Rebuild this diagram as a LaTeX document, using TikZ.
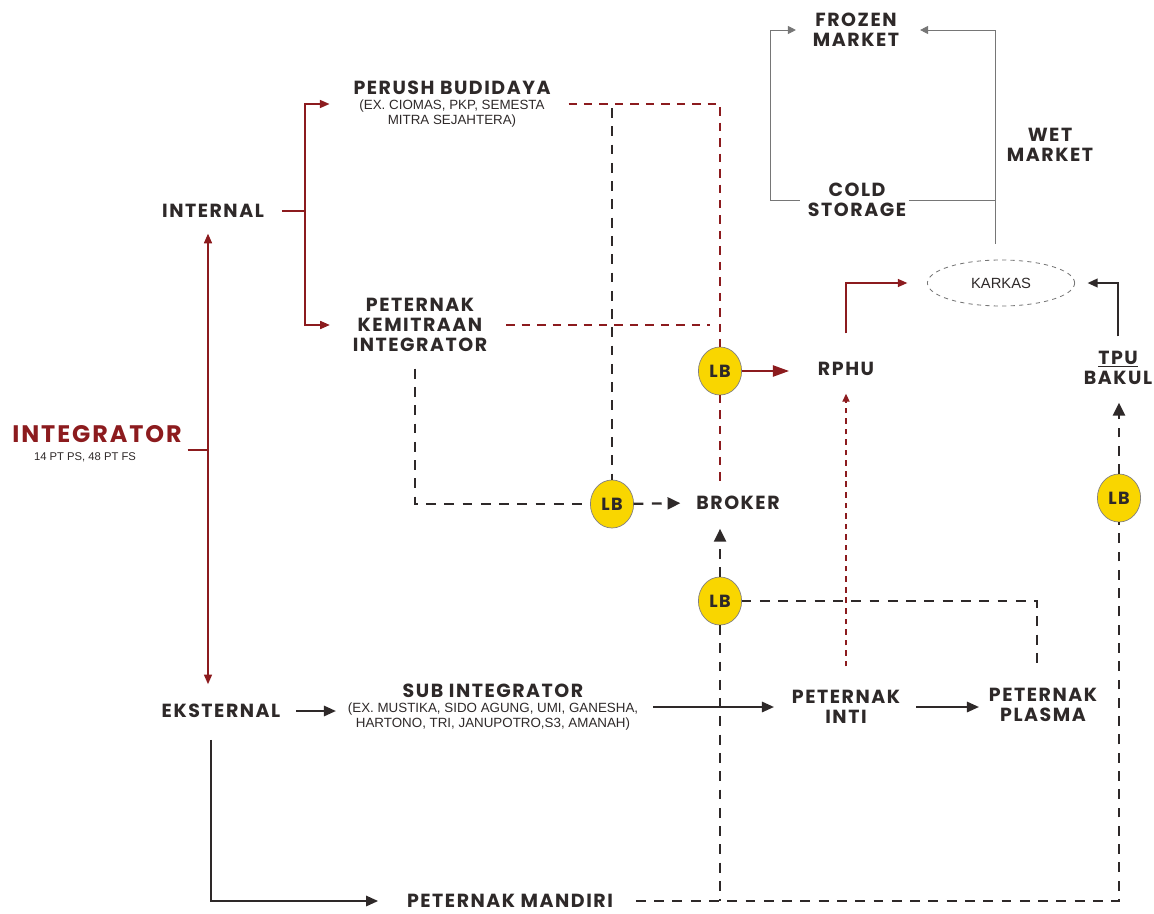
\documentclass[tikz,border=0pt]{standalone}
\usepackage{fontspec}
\setmainfont{Liberation Sans}
\newfontfamily\poppins{Poppins}[LetterSpace=8]
\newcommand*{\boldfont}{\poppins\bfseries\fontsize{13.5}{14.2}\selectfont}
\newcommand*{\subfont}{\fontsize{9.5}{10.8}\selectfont}
\definecolor{R}{RGB}{140,27,30}
\definecolor{K}{RGB}{46,41,41}
\definecolor{Y}{RGB}{249,214,0}
\definecolor{G}{RGB}{118,118,118}
\usetikzlibrary{arrows.meta}
\usetikzlibrary{shapes.geometric}
\tikzstyle{base}=[x=0.025cm, y=-0.025cm, inner sep=0pt, outer sep=0pt]
\tikzstyle{lbl}=[text=K, font=\boldfont, align=center]
\tikzstyle{grp}=[text=K, font=\subfont, align=center]
\tikzstyle{lb}=[ellipse, draw=K!60, line width=0.5pt, fill=Y, minimum width=10.8mm, minimum height=12mm, text=K, font=\poppins\bfseries\fontsize{12.5}{12.5}\selectfont]
\tikzstyle{karkas}=[ellipse, draw=G, dashed, line width=0.6pt, minimum width=36.8mm, minimum height=11.5mm, text=K, font=\fontsize{10.5}{12}\selectfont]
\tikzstyle{redln}=[draw=R, line width=1.1pt, >={Triangle[length=2.4mm,width=2mm]}]
\tikzstyle{redda}=[draw=R, line width=1.3pt, dash pattern=on 6pt off 5pt]
\tikzstyle{redfine}=[draw=R, line width=0.9pt, dash pattern=on 4pt off 3.5pt, >={Triangle[length=2mm,width=1.8mm]}]
\tikzstyle{blkln}=[draw=K, line width=1.3pt, >={Triangle[length=3mm,width=2.6mm]}]
\tikzstyle{blkda}=[draw=K, line width=1.6pt, dash pattern=on 7pt off 6pt, >={Triangle[length=3.2mm,width=3mm]}]
\tikzstyle{greyln}=[draw=G, line width=0.7pt, >={Triangle[length=2mm,width=2mm]}]

\begin{document}
\begin{tikzpicture}[base]
    \useasboundingbox (0,0) rectangle (1154,913);
    % left side
    \node [text=R, font=\poppins\bfseries\fontsize{17}{17}\selectfont] (integ) at (97,434) {INTEGRATOR};
    \node [text=K, font=\fontsize{8}{8}\selectfont] (integsub) at (85,457) {14 PT PS, 48 PT FS};
    \node [lbl] (internal) at (213,211) {INTERNAL};
    \node [lbl] (eksternal) at (221,711) {EKSTERNAL};
    \node [grp] (perush) at (452,104) {{\boldfont PERUSH BUDIDAYA}\\(EX. CIOMAS, PKP, SEMESTA\\MITRA SEJAHTERA)};
    \node [lbl] (kemit) at (420,325) {PETERNAK\\KEMITRAAN\\INTEGRATOR};
    \node [grp] (subint) at (493,707) {{\boldfont SUB INTEGRATOR}\\(EX. MUSTIKA, SIDO AGUNG, UMI, GANESHA,\\HARTONO, TRI, JANUPOTRO,S3, AMANAH)};
    \node [lbl] (mandiri) at (510,901) {PETERNAK MANDIRI};
    % middle and right
    \node [lbl] (broker) at (738,503) {BROKER};
    \node [lbl] (rphu) at (846,369) {RPHU};
    \node [lbl] (inti) at (846,707) {PETERNAK\\INTI};
    \node [lbl] (plasma) at (1043,705) {PETERNAK\\PLASMA};
    \node [lbl] (tpu) at (1118,368) {\underline{TPU}\\BAKUL};
    \node [karkas] (krk) at (1001,283) {KARKAS};
    \node [lbl] (cold) at (857,200) {COLD\\STORAGE};
    \node [lbl] (frozen) at (856,30) {FROZEN\\MARKET};
    \node [lbl] (wet) at (1050,145) {WET\\MARKET};
    \node [lb] (lbA) at (612,504) {LB};
    \node [lb] (lbB) at (720,371) {LB};
    \node [lb] (lbC) at (720,601) {LB};
    \node [lb] (lbD) at (1119,498) {LB};
    \coordinate (trunk) at (208,450);
    \coordinate (ibus) at (305,211);
    \coordinate (cleft) at (770,200);
    \coordinate (wbus) at (995,200);

    \draw [redln, shorten <=1.5mm] (trunk -| integ.east) -- (trunk);
    \draw [redln, ->, shorten >=4mm] (trunk) -- (trunk |- internal.south);
    \draw [redln, ->, shorten >=5mm] (trunk) -- (trunk |- eksternal.north);
    \draw [redln, shorten <=4.5mm] (internal.east) -- (ibus);
    \draw [redln, ->, shorten >=6mm] (ibus) |- (perush.west);
    \draw [redln, ->, shorten >=5.75mm] (ibus) |- (kemit.west);

    \draw [redda, shorten <=4.5mm] (perush.east) -| (lbB);
    \draw [redda, shorten <=4.75mm, shorten >=2.5mm] (kemit.east) -- (kemit.east -| lbB);
    \draw [redda, shorten >=3.75mm] (lbB) -- (lbB |- broker.north);
    \draw [blkda, shorten <=1mm] (lbA |- perush.east) -- (lbA);
    \draw [blkda, shorten <=4.25mm] ([xshift=-1.25mm]kemit.south) |- (lbA);
    \draw [blkda, ->, shorten >=4mm] (lbA) -- (broker.west);

    \draw [redln, ->, >={Triangle[length=4mm,width=2.8mm]}, shorten >=7.25mm] (lbB) -- (lbB -| rphu.west);
    \draw [redln, ->, shorten <=7.25mm, shorten >=5mm] (rphu.north) |- (krk.west);
    \draw [blkln, line width=1pt, ->, >={Triangle[length=2.5mm,width=2.2mm]}, shorten <=3.75mm, shorten >=3.25mm] (tpu.north) |- (krk.east);
    \draw [blkda, ->, shorten >=4.5mm] (lbD) -- (lbD |- tpu.south);
    \draw [blkda, shorten <=5.75mm] (mandiri.east) -| (lbD);

    \draw [blkda, ->, shorten >=4.75mm] (lbC) -- (lbC |- broker.south);
    \draw [blkda] (lbC) -- (lbC |- mandiri.east);
    \draw [blkda, shorten >=5.75mm] (lbC) -| ([xshift=-1.5mm]plasma.north);
    \draw [redfine, ->, shorten <=6mm, shorten >=4.5mm] (inti.north) -- (rphu.south);

    \draw [blkln, ->, shorten <=4mm, shorten >=3mm] (eksternal.east) -- (eksternal.east -| subint.west);
    \draw [blkln, ->, shorten <=3.75mm, shorten >=4.5mm] (subint.east) -- (inti.west);
    \draw [blkln, ->, shorten <=4mm, shorten >=2.5mm] (inti.east) -- (inti.east -| plasma.west);
    \draw [blkln, ->, shorten <=5.5mm, shorten >=7.25mm] ([xshift=-2.5mm]eksternal.south) |- (mandiri.west);

    % markets
    \draw [greyln, ->, shorten <=2mm, shorten >=4.25mm] (cold.west) -- (cleft) |- (frozen.west);
    \draw [greyln, ->, shorten <=4mm, shorten >=5.25mm] (wbus |- krk.north) -- (wbus) |- (frozen.east);
    \draw [greyln, shorten <=0.75mm] (cold.east) -- (wbus);
\end{tikzpicture}
\end{document}
